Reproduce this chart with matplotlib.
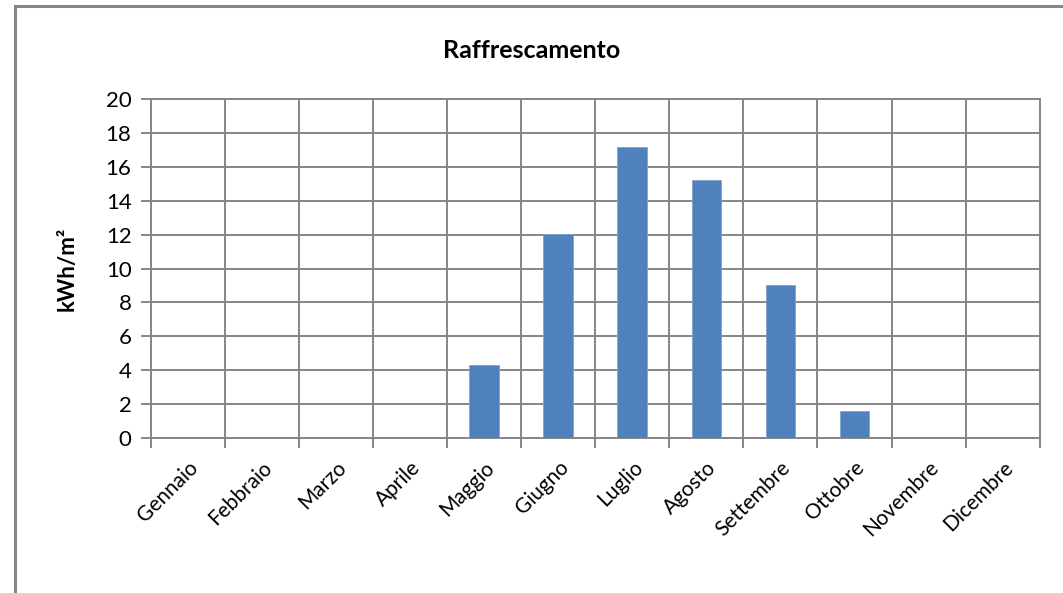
import matplotlib.pyplot as plt
from matplotlib.patches import Rectangle
import numpy as np

months = ['Gennaio', 'Febbraio', 'Marzo', 'Aprile', 'Maggio', 'Giugno',
          'Luglio', 'Agosto', 'Settembre', 'Ottobre', 'Novembre', 'Dicembre']
cooling = [0, 0, 0, 0, 4.3, 12.05, 17.15, 15.25, 9.05, 1.6, 0, 0]
y_ticks = list(range(0, 21, 2))

GRID = '#868686'
BAR = '#4F81BD'

plt.rcParams['font.family'] = ['Lato', 'DejaVu Sans']

fig = plt.figure(figsize=(10.63, 5.93), dpi=100)
ax = fig.add_axes([0.142, 0.2614, 0.836, 0.5716])

x = np.arange(len(months))
ax.bar(x, cooling, width=0.4, color=BAR, edgecolor='#7FA3CF',
       linewidth=0.6, zorder=3)

ax.set_xlim(-0.5, len(months) - 0.5)
ax.set_ylim(0, 20)
ax.set_yticks(y_ticks)
ax.set_yticklabels([str(v) for v in y_ticks], fontsize=16)

# month names centred on the bars, tick marks on category edges
ax.set_xticks(x)
ax.set_xticklabels(months, rotation=45, ha='right', rotation_mode='anchor',
                   fontsize=15)
ax.tick_params(axis='x', which='major', length=0, pad=14)
ax.set_xticks(np.arange(-0.5, len(months)), minor=True)
ax.tick_params(axis='x', which='minor', length=7, width=1.4, color=GRID)
ax.tick_params(axis='y', length=7, width=1.4, color=GRID, pad=7)

ax.grid(True, axis='y', color=GRID, linewidth=1.4, zorder=0)
ax.grid(True, axis='x', which='minor', color=GRID, linewidth=1.4, zorder=0)
for spine in ax.spines.values():
    spine.set_color(GRID)
    spine.set_linewidth(1.4)

ax.set_ylabel('kWh/m²', fontsize=16, fontweight='bold', labelpad=20)
fig.text(0.5, 0.915, 'Raffrescamento', ha='center', va='center',
         fontsize=18, fontweight='bold')

# chart frame
fig.patches.append(Rectangle((0.0138, -0.05), 1.2, 1.04, transform=fig.transFigure,
                             fill=False, edgecolor=GRID, linewidth=2.2))

fig.savefig('out.png', dpi=100)
